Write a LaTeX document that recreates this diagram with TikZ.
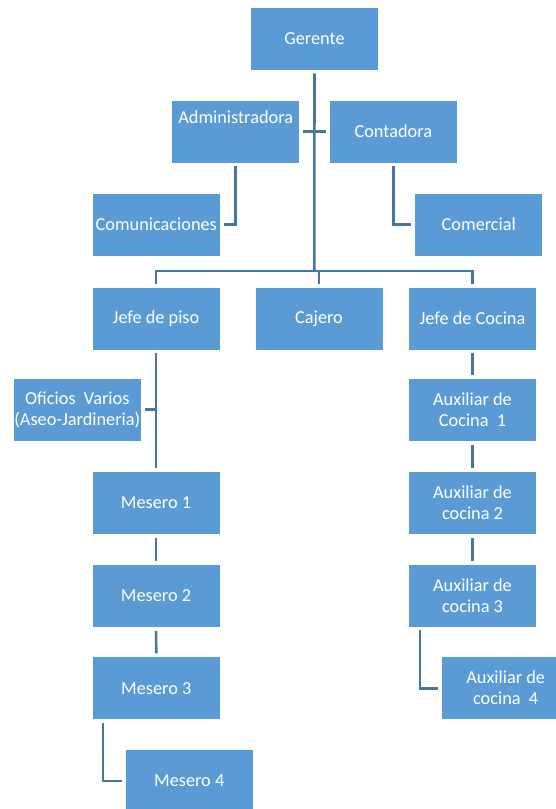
\documentclass[tikz,border=0pt]{standalone}
\usepackage{fontspec}
\setmainfont{Carlito}
\definecolor{boxblue}{RGB}{91,155,213}
\definecolor{linkblue}{RGB}{68,118,166}
\begin{document}
\begin{tikzpicture}[x=1pt,y=-1pt,
  orgbox/.style={rectangle, fill=boxblue, draw=white, line width=0.8pt,
    minimum width=128pt, minimum height=63pt, inner sep=0pt, align=center,
    text=white, font=\fontsize{18.3}{21}\selectfont},
  link/.style={draw=linkblue, line width=2.6pt, shorten <=3pt, shorten >=3pt}]
\useasboundingbox (0,0) rectangle (556,809);
\clip (0,0) rectangle (556,809);
% nodes
\node[orgbox] (ger) at (314.5,38.5) {Gerente};
\node[orgbox] (adm) at (235.7,131.5) {Administradora\\[8pt]\phantom{X}};
\node[orgbox] (con) at (393.3,131.5) {Contadora};
\node[orgbox] (com) at (156.3,224.5) {Comunicaciones};
\node[orgbox] (cmr) at (478.8,224.5) {Comercial};
\node[orgbox] (jp) at (156,318.5) {Jefe de piso};
\node[orgbox] (caj) at (319,319) {Cajero};
\node[orgbox] (jc) at (472.5,318.5) {Jefe de Cocina};
\node[orgbox] (ofi) at (77.3,409.7) {Oficios\ \ Varios\\(Aseo-Jardineria)};
\node[orgbox] (m1) at (156,503) {Mesero 1};
\node[orgbox] (m2) at (156,596) {Mesero 2};
\node[orgbox] (m3) at (156.3,688.3) {Mesero 3};
\node[orgbox] (m4) at (189.2,781) {Mesero 4};
\node[orgbox] (a1) at (472.5,410) {Auxiliar de\\Cocina\ \ 1};
\node[orgbox] (a2) at (472.5,502.9) {Auxiliar de\\cocina 2};
\node[orgbox] (a3) at (472.5,595.5) {Auxiliar de\\cocina 3};
\node[orgbox] (a4) at (505.7,688.2) {Auxiliar de\\cocina\ \ 4};
% coordinates
\coordinate (bus) at (314.3,271);
% connectors
\draw[link, shorten >=0pt] (ger.south) -- (bus);
\draw[link] (jp.north) |- (bus) -| (jc.north);
\draw[link, shorten >=0pt] (caj.north) -- (caj.north |- bus);
\draw[link] (adm.east) -- (con.west);
\draw[link] (adm.south) |- (com.east);
\draw[link] (con.south) |- (cmr.west);
\draw[link] (jp.south) -- (m1.north);
\draw[link, shorten >=0pt] (ofi.east) -- (ofi.east -| jp.south);
\draw[link] (m1.south) -- (m2.north);
\draw[link] (m2.south) -- (m3.north);
\draw[link] ([xshift=11pt]m3.south west) |- (m4.west);
\draw[link] (jc.south) -- (a1.north);
\draw[link] (a1.south) -- (a2.north);
\draw[link] (a2.south) -- (a3.north);
\draw[link] ([xshift=11.7pt]a3.south west) |- (a4.west);
\end{tikzpicture}
\end{document}
